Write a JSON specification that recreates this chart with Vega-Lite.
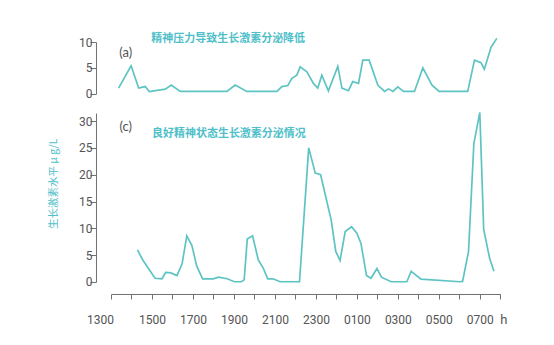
{
  "$schema": "https://vega.github.io/schema/vega-lite/v6.json",
  "background": "white",
  "padding": {"left": 48, "top": 32, "right": 5, "bottom": 5},
  "bounds": "flush",
  "spacing": 19,
  "config": {
    "view": {"stroke": null},
    "axis": {
      "grid": false,
      "labelColor": "#555555",
      "labelFont": "Roboto",
      "labelFontSize": 12,
      "labelOverlap": false
    }
  },
  "datasets": {
    "a": [
      {"h": 13.37, "v": 1.1}, {"h": 13.98, "v": 5.4}, {"h": 14.35, "v": 1.1}, {"h": 14.67, "v": 1.4},
      {"h": 14.87, "v": 0.45}, {"h": 15.65, "v": 0.9}, {"h": 15.94, "v": 1.7}, {"h": 16.38, "v": 0.45},
      {"h": 18.66, "v": 0.45}, {"h": 19.06, "v": 1.7}, {"h": 19.63, "v": 0.45}, {"h": 21.1, "v": 0.45},
      {"h": 21.34, "v": 1.4}, {"h": 21.63, "v": 1.6}, {"h": 21.83, "v": 3.0}, {"h": 22.07, "v": 3.6},
      {"h": 22.23, "v": 5.2}, {"h": 22.56, "v": 4.25}, {"h": 22.88, "v": 2.0}, {"h": 23.09, "v": 1.1},
      {"h": 23.29, "v": 3.6}, {"h": 23.61, "v": 0.57}, {"h": 24.07, "v": 5.3}, {"h": 24.27, "v": 1.1},
      {"h": 24.59, "v": 0.6}, {"h": 24.8, "v": 2.35}, {"h": 25.08, "v": 2.0}, {"h": 25.29, "v": 6.5},
      {"h": 25.6, "v": 6.5}, {"h": 26.02, "v": 1.7}, {"h": 26.35, "v": 0.45}, {"h": 26.54, "v": 0.95},
      {"h": 26.76, "v": 0.45}, {"h": 27.0, "v": 1.33}, {"h": 27.27, "v": 0.45}, {"h": 27.81, "v": 0.45},
      {"h": 28.22, "v": 5.0}, {"h": 28.66, "v": 1.7}, {"h": 29.01, "v": 0.45}, {"h": 30.41, "v": 0.45},
      {"h": 30.74, "v": 6.5}, {"h": 31.06, "v": 6.0}, {"h": 31.22, "v": 4.75}, {"h": 31.55, "v": 9.0},
      {"h": 31.83, "v": 10.7}
    ],
    "c": [
      {"h": 14.29, "v": 6.0}, {"h": 14.55, "v": 4.1}, {"h": 15.15, "v": 0.7}, {"h": 15.49, "v": 0.6},
      {"h": 15.67, "v": 1.8}, {"h": 15.92, "v": 1.7}, {"h": 16.22, "v": 1.2}, {"h": 16.47, "v": 3.4},
      {"h": 16.7, "v": 8.6}, {"h": 16.95, "v": 6.8}, {"h": 17.18, "v": 3.0}, {"h": 17.47, "v": 0.6},
      {"h": 17.99, "v": 0.6}, {"h": 18.24, "v": 0.9}, {"h": 18.67, "v": 0.6}, {"h": 19.02, "v": 0.05},
      {"h": 19.36, "v": 0.05}, {"h": 19.5, "v": 0.4}, {"h": 19.65, "v": 8.0}, {"h": 19.91, "v": 8.6},
      {"h": 20.19, "v": 4.1}, {"h": 20.43, "v": 2.6}, {"h": 20.65, "v": 0.6}, {"h": 20.91, "v": 0.6},
      {"h": 21.25, "v": 0.05}, {"h": 22.2, "v": 0.05}, {"h": 22.65, "v": 25.0}, {"h": 22.97, "v": 20.3},
      {"h": 23.23, "v": 20.0}, {"h": 23.49, "v": 15.75}, {"h": 23.75, "v": 11.5}, {"h": 23.97, "v": 5.7},
      {"h": 24.18, "v": 4.0}, {"h": 24.43, "v": 9.4}, {"h": 24.74, "v": 10.3}, {"h": 25.0, "v": 9.1},
      {"h": 25.2, "v": 7.2}, {"h": 25.47, "v": 1.2}, {"h": 25.69, "v": 0.7}, {"h": 25.98, "v": 2.5},
      {"h": 26.2, "v": 0.9}, {"h": 26.67, "v": 0.05}, {"h": 27.44, "v": 0.05}, {"h": 27.65, "v": 2.0},
      {"h": 28.13, "v": 0.55}, {"h": 30.02, "v": 0.05}, {"h": 30.16, "v": 0.1}, {"h": 30.45, "v": 5.7},
      {"h": 30.71, "v": 25.8}, {"h": 31.0, "v": 31.6}, {"h": 31.19, "v": 9.8}, {"h": 31.48, "v": 4.4},
      {"h": 31.69, "v": 2.0}
    ]
  },
  "vconcat": [
    {
      "width": 404.3,
      "height": 51.8,
      "title": {"text": "精神压力导致生长激素分泌降低", "anchor": "start", "frame": "group", "dx": 55.3, "offset": -14.6,
                "baseline": "middle", "font": "Noto Sans CJK SC", "fontSize": 11, "fontWeight": "bold", "color": "#4fc0c9"},
      "data": {"name": "a"},
      "mark": {"type": "line", "color": "#5ec4c3", "strokeWidth": 1.7},
      "encoding": {
        "x": {"field": "h", "type": "quantitative", "scale": {"domain": [13, 32], "range": [15, 404.3]},
              "axis": {"domain": false, "ticks": false, "labels": false, "title": "(c)", "titleX": 29.3, "titleY": 32.9,
                       "titleAngle": 0, "titleAlign": "center", "titleBaseline": "middle", "titleFont": "Lato",
                       "titleFontSize": 13, "titleFontWeight": "normal", "titleColor": "#555555"}},
        "y": {"field": "v", "type": "quantitative", "scale": {"domain": [0, 10]},
              "axis": {"values": [0, 5, 10], "tickSize": 6, "labelPadding": -2,
                       "domainColor": "#707070", "tickColor": "#707070",
                       "encode": {"ticks": {"update": {"x2": {"value": 6}}}},
                       "title": "(a)", "titleX": 29.3, "titleY": 10.3, "titleAngle": 0, "titleAlign": "center",
                       "titleBaseline": "middle", "titleFont": "Lato", "titleFontSize": 13, "titleFontWeight": "normal",
                       "titleColor": "#555555"}}
      }
    },
    {
      "width": 404.3,
      "height": 169,
      "title": {"text": "良好精神状态生长激素分泌情况", "anchor": "start", "frame": "group", "dx": 56, "offset": -36.2,
                "baseline": "middle", "font": "Noto Sans CJK SC", "fontSize": 11, "fontWeight": "bold", "color": "#4fc0c9"},
      "data": {"name": "c"},
      "mark": {"type": "line", "color": "#5ec4c3", "strokeWidth": 1.7},
      "encoding": {
        "x": {"field": "h", "type": "quantitative", "scale": {"domain": [13, 32], "range": [15, 404.3]},
              "axis": {
                "values": [13, 14, 15, 16, 17, 18, 19, 20, 21, 22, 23, 24, 25, 26, 27, 28, 29, 30, 31, 32],
                "tickSize": 5, "offset": 12, "labelPadding": 15.3, "labelFlush": false,
                "domainColor": "#707070", "tickColor": "#707070",
                "encode": {"ticks": {"update": {"y2": {"value": -5}}}},
                "labelOffset": {"condition": {"test": "datum.value === 13", "value": -11}, "value": 0},
                "labelExpr": "datum.value % 2 == 1 ? ((datum.value % 24) < 10 ? '0' : '') + (datum.value % 24) + '00' : ''",
                "title": "h", "titleX": 407.3, "titleY": 26, "titleAngle": 0, "titleAlign": "center", "titleBaseline": "middle",
                "titleFont": "Roboto", "titleFontSize": 13, "titleFontWeight": "normal", "titleColor": "#555555"
              }},
        "y": {"field": "v", "type": "quantitative", "scale": {"domain": [0, 31.5]},
              "axis": {"values": [0, 5, 10, 15, 20, 25, 30], "tickSize": 6, "labelPadding": -2,
                       "domainColor": "#707070", "tickColor": "#707070",
                       "encode": {"ticks": {"update": {"x2": {"value": 6}}}},
                       "title": "生长激素水平 μ g/L", "titleX": -42.2, "titleY": 70.3, "titleAngle": -90,
                       "titleAlign": "center", "titleBaseline": "middle", "titleFont": "Noto Sans CJK SC",
                       "titleFontSize": 10.5, "titleFontWeight": "normal", "titleColor": "#4fc0c9"}}
      }
    }
  ]
}
